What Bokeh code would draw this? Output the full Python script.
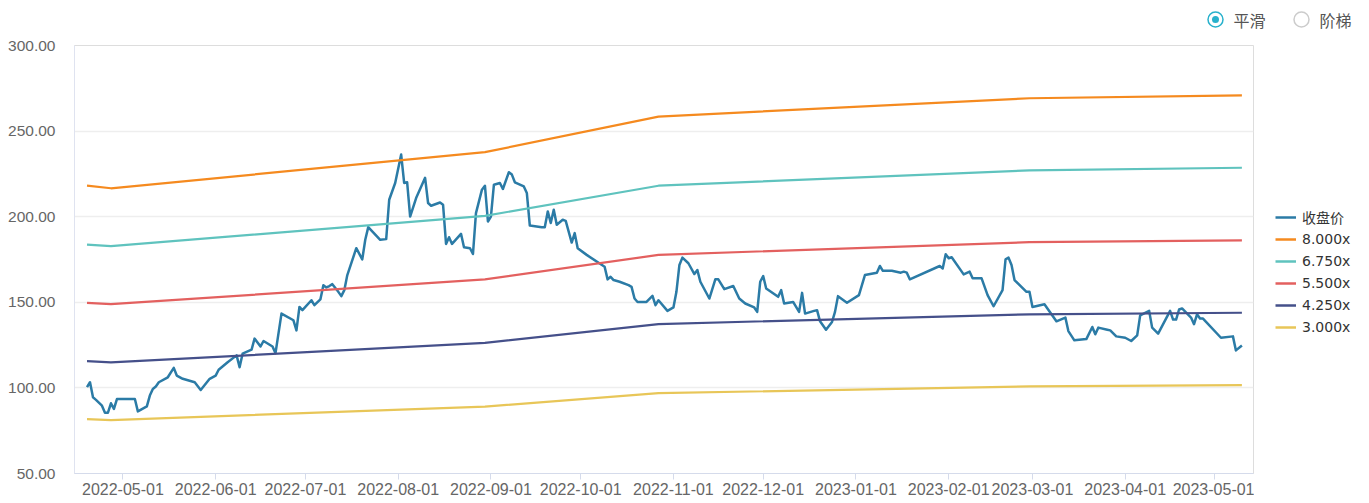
from datetime import datetime
import pandas as pd
from bokeh.plotting import figure
from bokeh.layouts import column, row
from bokeh.core.properties import value
from bokeh.models import (Range1d, FixedTicker, PrintfTickFormatter, MonthsTicker,
                          DatetimeTickFormatter, Legend, LegendItem)
from bokeh.embed import file_html
from bokeh.resources import INLINE

# ---------------- data ----------------
price_dates = [
    "2022-04-19", "2022-04-20", "2022-04-21", "2022-04-22", "2022-04-24", "2022-04-25", "2022-04-26",
    "2022-04-27", "2022-04-28", "2022-04-29", "2022-05-05", "2022-05-06", "2022-05-09", "2022-05-10",
    "2022-05-11", "2022-05-12", "2022-05-13", "2022-05-16", "2022-05-18", "2022-05-19", "2022-05-21",
    "2022-05-25", "2022-05-27", "2022-05-30", "2022-06-01", "2022-06-02", "2022-06-05", "2022-06-08",
    "2022-06-09", "2022-06-10", "2022-06-13", "2022-06-14", "2022-06-16", "2022-06-17", "2022-06-20",
    "2022-06-21", "2022-06-23", "2022-06-27", "2022-06-28", "2022-06-29", "2022-06-30", "2022-07-03",
    "2022-07-04", "2022-07-06", "2022-07-07", "2022-07-08", "2022-07-09", "2022-07-10", "2022-07-12",
    "2022-07-13", "2022-07-14", "2022-07-15", "2022-07-18", "2022-07-20", "2022-07-21", "2022-07-22",
    "2022-07-26", "2022-07-28", "2022-07-29", "2022-07-31", "2022-08-02", "2022-08-03", "2022-08-04",
    "2022-08-05", "2022-08-07", "2022-08-10", "2022-08-11", "2022-08-12", "2022-08-15", "2022-08-16",
    "2022-08-17", "2022-08-18", "2022-08-19", "2022-08-22", "2022-08-23", "2022-08-25", "2022-08-26",
    "2022-08-27", "2022-08-29", "2022-08-30", "2022-08-31", "2022-09-01", "2022-09-02", "2022-09-04",
    "2022-09-05", "2022-09-07", "2022-09-08", "2022-09-09", "2022-09-12", "2022-09-13", "2022-09-14",
    "2022-09-18", "2022-09-19", "2022-09-20", "2022-09-21", "2022-09-22", "2022-09-23", "2022-09-25",
    "2022-09-26", "2022-09-28", "2022-09-29", "2022-09-30", "2022-10-03", "2022-10-09", "2022-10-10",
    "2022-10-11", "2022-10-12", "2022-10-14", "2022-10-17", "2022-10-18", "2022-10-19", "2022-10-20",
    "2022-10-23", "2022-10-25", "2022-10-26", "2022-10-27", "2022-10-30", "2022-11-01", "2022-11-02",
    "2022-11-03", "2022-11-04", "2022-11-06", "2022-11-08", "2022-11-09", "2022-11-10", "2022-11-13",
    "2022-11-15", "2022-11-16", "2022-11-18", "2022-11-21", "2022-11-23", "2022-11-25", "2022-11-28",
    "2022-11-29", "2022-11-30", "2022-12-01", "2022-12-02", "2022-12-06", "2022-12-07", "2022-12-08",
    "2022-12-11", "2022-12-13", "2022-12-14", "2022-12-15", "2022-12-18", "2022-12-19", "2022-12-20",
    "2022-12-22", "2022-12-24", "2022-12-25", "2022-12-26", "2022-12-29", "2023-01-02", "2023-01-04",
    "2023-01-08", "2023-01-09", "2023-01-10", "2023-01-13", "2023-01-16", "2023-01-17", "2023-01-18",
    "2023-01-19", "2023-01-29", "2023-01-30", "2023-01-31", "2023-02-01", "2023-02-02", "2023-02-06",
    "2023-02-08", "2023-02-09", "2023-02-12", "2023-02-14", "2023-02-16", "2023-02-19", "2023-02-20",
    "2023-02-21", "2023-02-22", "2023-02-23", "2023-02-27", "2023-02-28", "2023-03-01", "2023-03-05",
    "2023-03-06", "2023-03-09", "2023-03-12", "2023-03-13", "2023-03-15", "2023-03-19", "2023-03-21",
    "2023-03-22", "2023-03-23", "2023-03-26", "2023-03-27", "2023-03-29", "2023-04-01", "2023-04-03",
    "2023-04-05", "2023-04-06", "2023-04-09", "2023-04-10", "2023-04-12", "2023-04-16", "2023-04-17",
    "2023-04-18", "2023-04-19", "2023-04-20", "2023-04-23", "2023-04-24", "2023-04-25", "2023-04-26",
    "2023-04-27", "2023-05-03", "2023-05-07", "2023-05-08", "2023-05-10",
]
price_values = [
    100.4, 103.3, 94.5, 93.0, 89.6, 85.5, 85.5,
    91.0, 87.7, 93.5, 93.5, 86.3, 89.2, 95.5,
    99.4, 100.8, 103.3, 106.2, 111.7, 107.2, 105.3,
    103.3, 98.8, 105.3, 107.2, 110.6, 115.0, 119.0,
    112.1, 120.0, 122.3, 128.8, 124.2, 127.4, 124.2,
    120.3, 143.4, 139.5, 133.6, 147.3, 145.4, 151.2,
    148.3, 151.7, 160.0, 158.7, 159.5, 160.6, 156.1,
    153.6, 157.1, 165.9, 181.6, 175.1, 186.5, 193.9,
    186.5, 186.9, 209.9, 219.7, 236.3, 219.7, 220.1,
    200.1, 210.9, 222.7, 208.0, 206.4, 208.3, 207.0,
    184.1, 188.0, 184.1, 190.0, 182.2, 181.6, 178.2,
    202.1, 215.8, 218.1, 197.2, 200.1, 218.7, 219.7,
    216.2, 226.0, 224.6, 220.1, 217.7, 213.9, 194.8,
    193.9, 193.9, 203.1, 196.3, 204.1, 195.3, 198.2,
    197.6, 184.9, 190.4, 181.6, 177.7, 170.8, 163.4,
    164.9, 163.0, 162.0, 160.0, 159.0, 152.2, 150.2,
    150.2, 153.8, 148.3, 151.2, 145.0, 147.0, 156.1,
    171.8, 176.1, 172.8, 166.5, 168.8, 162.0, 152.2,
    163.4, 163.4, 157.7, 159.5, 152.2, 149.3, 147.0,
    144.4, 162.0, 165.3, 158.1, 153.2, 157.1, 149.3,
    150.2, 144.4, 155.5, 143.4, 145.0, 145.4, 138.9,
    134.0, 138.5, 144.4, 153.6, 149.7, 154.2, 165.9,
    167.3, 171.2, 168.4, 168.4, 167.3, 167.9, 167.3,
    163.4, 171.2, 169.8, 178.1, 175.7, 176.3, 166.3,
    167.9, 164.0, 164.0, 154.2, 147.7, 157.1, 175.1,
    176.1, 171.8, 163.0, 156.1, 156.1, 147.3, 148.9,
    146.4, 138.9, 141.1, 133.2, 127.8, 128.5, 135.6,
    131.3, 135.2, 134.0, 133.6, 130.1, 129.3, 127.4,
    130.7, 142.4, 145.0, 135.2, 131.7, 145.0, 139.9,
    139.9, 145.8, 146.4, 141.1, 137.2, 143.0, 140.5,
    140.5, 129.3, 130.1, 121.9, 124.8,
]

band_dates = ["2022-04-19", "2022-04-27", "2022-08-30", "2022-10-27", "2023-02-28", "2023-05-10"]
band_8000 = [218.1, 216.6, 237.7, 258.5, 269.2, 270.9]
band_6750 = [183.7, 182.8, 200.5, 218.1, 227.1, 228.6]
band_5500 = [149.7, 148.9, 163.4, 177.7, 185.1, 186.2]
band_4250 = [115.6, 114.9, 126.3, 137.3, 143.0, 143.9]
band_3000 = [81.8, 81.2, 89.1, 96.9, 100.9, 101.6]

price_label = "收盘价"
band_labels = ["8.000x", "6.750x", "5.500x", "4.250x", "3.000x"]
band_series = [band_8000, band_6750, band_5500, band_4250, band_3000]
y_ticks = [50, 100, 150, 200, 250, 300]
mode_labels = ["平滑", "阶梯"]

# ---------------- styles ----------------
price_color = "#2b7ba6"
band_colors = ["#f58a1f", "#5fc3be", "#e3605f", "#45508a", "#e8c658"]
radio_color = "#28b1cc"
tick_font = "Liberation Sans"
cjk_font = "Noto Sans CJK SC"

TOTAL_W = 1365
TOP_H = 35
MAIN_W = 1254
BODY_H = 465

pd_price = pd.to_datetime(price_dates)
pd_band = pd.to_datetime(band_dates)

# ---------------- top strip: mode switch ----------------
top = figure(width=TOTAL_W, height=TOP_H, output_backend="svg", toolbar_location=None,
             x_range=Range1d(0, TOTAL_W), y_range=Range1d(TOP_H, 0),
             x_axis_location=None, y_axis_location=None,
             min_border_left=0, min_border_right=0, min_border_top=0, min_border_bottom=0)
top.grid.visible = False
top.outline_line_color = None
top.background_fill_color = "white"
top.border_fill_color = "white"
radio_x = [1215, 1301]
radio_y = [19, 19]
top.scatter(x=radio_x[:1], y=radio_y[:1], marker="circle", size=15, fill_color="white",
            line_color=radio_color, line_width=1.5)
top.scatter(x=radio_x[:1], y=radio_y[:1], marker="circle", size=7, fill_color=radio_color,
            line_color=None)
top.scatter(x=radio_x[1:], y=radio_y[1:], marker="circle", size=15, fill_color="white",
            line_color="#cccccc", line_width=1.5)
top.text(x=[x + 18 for x in radio_x], y=radio_y, text=mode_labels,
         text_font=value(cjk_font), text_font_size="16px", text_color="#555555",
         text_baseline="middle", text_align="left")

# ---------------- main chart ----------------
p = figure(width=MAIN_W, height=BODY_H, x_axis_type="datetime",
           output_backend="svg", toolbar_location=None,
           x_range=Range1d(datetime(2022, 4, 14, 19, 40), datetime(2023, 5, 13, 21, 0)),
           y_range=Range1d(50, 300),
           min_border_left=74, min_border_right=1, min_border_top=10, min_border_bottom=27)

p.background_fill_color = "white"
p.border_fill_color = "white"
p.outline_line_color = "#dddddd"
p.outline_line_width = 1

p.xgrid.visible = False
p.ygrid.grid_line_color = "#eeeeee"
p.ygrid.grid_line_width = 1.5

p.yaxis.ticker = FixedTicker(ticks=y_ticks)
p.yaxis.formatter = PrintfTickFormatter(format="%.2f")
p.yaxis.axis_line_color = "#dfe3f0"
p.yaxis.major_tick_line_color = None
p.yaxis.minor_tick_line_color = None
p.yaxis.major_label_standoff = 13
p.yaxis.major_label_text_font = tick_font
p.yaxis.major_label_text_font_size = "15.5px"
p.yaxis.major_label_text_color = "#666666"

p.xaxis.ticker = MonthsTicker(months=list(range(1, 13)))
fmt = "%Y-%m-%d"
p.xaxis.formatter = DatetimeTickFormatter(days=fmt, months=fmt, years=fmt)
p.xaxis.axis_line_color = "#d5dbeb"
p.xaxis.major_tick_line_color = "#d5dbeb"
p.xaxis.major_tick_in = 0
p.xaxis.major_tick_out = 6
p.xaxis.minor_tick_line_color = None
p.xaxis.major_label_standoff = 3
p.xaxis.major_label_text_font = tick_font
p.xaxis.major_label_text_font_size = "16px"
p.xaxis.major_label_text_color = "#666666"

p.line(pd_price, price_values, line_color=price_color, line_width=2.5, line_join="round")
for vals, col in zip(band_series, band_colors):
    p.line(pd_band, vals, line_color=col, line_width=2.2)

# ---------------- legend panel ----------------
lg = figure(width=TOTAL_W - MAIN_W, height=BODY_H, output_backend="svg", toolbar_location=None,
            x_range=Range1d(0, 1), y_range=Range1d(0, 1),
            x_axis_location=None, y_axis_location=None,
            min_border_left=0, min_border_right=0, min_border_top=0, min_border_bottom=0)
lg.grid.visible = False
lg.outline_line_color = None
lg.background_fill_color = "white"
lg.border_fill_color = "white"

items = []
for lab, col, w in zip([price_label] + band_labels, [price_color] + band_colors,
                       [2.5] + [2.5] * 5):
    # single-point line: nothing visible in the panel, only its legend swatch
    r = lg.line(x=[5], y=[5], line_color=col, line_width=w)
    items.append(LegendItem(label=lab, renderers=[r]))

legend = Legend(items=items, location=(21, 136), orientation="vertical",
                glyph_width=21, glyph_height=20, label_height=20, spacing=2,
                padding=0, margin=0, label_standoff=6,
                border_line_color=None, background_fill_alpha=0,
                label_text_font="DejaVu Sans, Noto Sans CJK SC", label_text_font_size="14px",
                label_text_color="#333333")
lg.add_layout(legend)

layout = column(top, row(p, lg, spacing=0), spacing=0)
open("out.html", "w").write(file_html(layout, INLINE))
